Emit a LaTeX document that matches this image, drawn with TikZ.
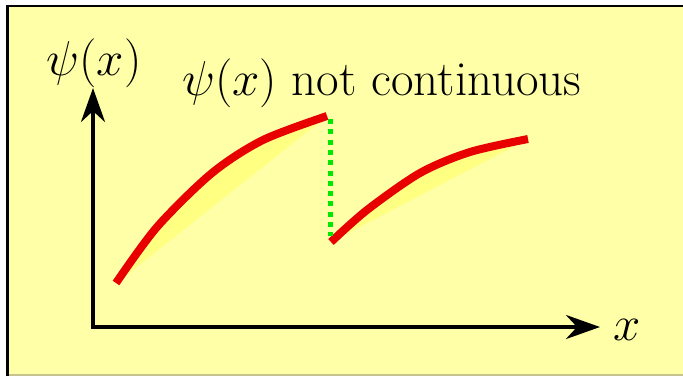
\RequirePackage{fix-cm}
\documentclass[tikz,border=0pt]{standalone}
\usetikzlibrary{arrows.meta}
\definecolor{bgyellow}{RGB}{255,255,168}
\definecolor{hiyellow}{RGB}{255,255,130}
\definecolor{curvered}{RGB}{232,0,0}
\definecolor{dotgreen}{RGB}{0,232,0}
\definecolor{edgegray}{RGB}{196,196,140}
\tikzset{
  lbl/.style={inner sep=0pt, font=\fontsize{49}{56}\selectfont},
  wave/.style={curvered, line width=8pt, line cap=butt},
  axis/.style={line width=4pt, {Stealth[length=34pt,width=24pt,inset=11pt]}-{Stealth[length=34pt,width=24pt,inset=11pt]}},
  jump/.style={dotgreen, line width=5pt, dash pattern=on 5pt off 5.3pt}
}
\begin{document}
\begin{tikzpicture}[x=1pt,y=-1pt]
\useasboundingbox (0,0) rectangle (683,376);
\fill[bgyellow] (7,5) rectangle (683,376);
\draw[edgegray, line width=1.2pt] (9,375) -- (683,375);
\draw[black, line width=2.6pt] (7.6,376) -- (7.6,5.8) -- (683,5.8);
\fill[hiyellow] plot[smooth, tension=0.5] coordinates {(118,282) (157,227) (212,173) (263,140) (327,116)} -- cycle;
\fill[hiyellow] plot[smooth, tension=0.5] coordinates {(333,241) (367,210) (420,173) (470,152) (528,139)} -- cycle;
\coordinate (ytip) at (93,88);
\coordinate (xtip) at (600,327);
\draw[axis] (ytip) |- (xtip);
\draw[wave] plot[smooth, tension=0.5] coordinates {(116,283) (157,227) (212,173) (263,140) (327,116)};
\draw[wave] plot[smooth, tension=0.5] coordinates {(331,242) (367,210) (420,173) (470,152) (528,139)};
\coordinate (jtop) at (330,119);
\coordinate (jbot) at (330,236);
\draw[jump] (jtop) -- (jbot);
\node[lbl, anchor=base] (ylabel) at (94,75) {$\psi(x)$};
\node[lbl, anchor=base west] (title) at (182,95) {$\psi(x)$ not continuous};
\node[lbl, anchor=base] (xlabel) at (627,340) {$x$};
\end{tikzpicture}
\end{document}
